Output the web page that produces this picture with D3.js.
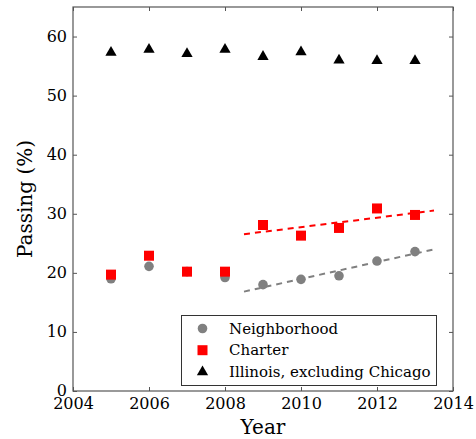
<!DOCTYPE html>
<html>
<head>
<meta charset="utf-8">
<script src="https://cdn.jsdelivr.net/npm/d3@7/dist/d3.min.js"></script>
<style>
  html, body { margin: 0; padding: 0; background: #fff; }
  svg { display: block; font-family: "DejaVu Serif", serif; }
</style>
</head>
<body>
<svg id="chart" width="476" height="439"></svg>
<script>
// Passing rates by year
const years = [2005, 2006, 2007, 2008, 2009, 2010, 2011, 2012, 2013];
const neighborhood = [19.0, 21.1, 20.2, 19.2, 18.0, 18.9, 19.5, 22.0, 23.6];
const charter = [19.7, 22.9, 20.2, 20.2, 28.1, 26.3, 27.6, 30.9, 29.8];
const illinois = [57.3, 57.8, 57.1, 57.8, 56.6, 57.4, 56.0, 55.9, 55.9];

// Trend fits use the years from 2009 on, drawn over this span
const fitStart = 2009;
const fitSpan = [2008.5, 2013.5];

const xTicks = [2004, 2006, 2008, 2010, 2012, 2014];
const yTicks = [0, 10, 20, 30, 40, 50, 60];
const legendLabels = ["Neighborhood", "Charter", "Illinois, excluding Chicago"];

const svg = d3.select("#chart");
const margin = { left: 73, right: 23, top: 7, bottom: 48 };
const W = 476, H = 439;

const x = d3.scaleLinear().domain([2004, 2014]).range([margin.left, W - margin.right]);
const y = d3.scaleLinear().domain([0, 65]).range([H - margin.bottom, margin.top]);

const frame = "#555";

// Axes with inward ticks on every side
function styleAxis(g) {
  g.select(".domain").remove();
  g.selectAll(".tick line").attr("stroke", frame);
  g.selectAll(".tick text").attr("fill", "#000").style("font-family", "DejaVu Serif").style("font-size", "16px");
}
svg.append("g").attr("transform", `translate(0,${y(0)})`)
  .call(d3.axisBottom(x).tickValues(xTicks).tickFormat(d3.format("d")).tickSizeInner(-4).tickPadding(7))
  .call(styleAxis);
svg.append("g").attr("transform", `translate(0,${y(65)})`)
  .call(d3.axisTop(x).tickValues(xTicks).tickFormat("").tickSizeInner(-4))
  .call(styleAxis);
svg.append("g").attr("transform", `translate(${x(2004)},0)`)
  .call(d3.axisLeft(y).tickValues(yTicks).tickSizeInner(-4).tickPadding(6))
  .call(styleAxis)
  .call(g => g.selectAll(".tick text").attr("dy", "0.28em"));
svg.append("g").attr("transform", `translate(${x(2014)},0)`)
  .call(d3.axisRight(y).tickValues(yTicks).tickFormat("").tickSizeInner(-4))
  .call(styleAxis);

svg.append("rect")
  .attr("x", x(2004)).attr("y", y(65))
  .attr("width", x(2014) - x(2004)).attr("height", y(0) - y(65))
  .attr("fill", "none").attr("stroke", frame).attr("stroke-width", 1.2);

// Least-squares trend line
function fit(vals) {
  const pts = years.map((yr, i) => [yr, vals[i]]).filter(p => p[0] >= fitStart);
  const mx = d3.mean(pts, p => p[0]), my = d3.mean(pts, p => p[1]);
  const slope = d3.sum(pts, p => (p[0] - mx) * (p[1] - my)) / d3.sum(pts, p => (p[0] - mx) ** 2);
  return fitSpan.map(t => [t, my + slope * (t - mx)]);
}
const line = d3.line().x(d => x(d[0])).y(d => y(d[1]));
svg.append("path").attr("d", line(fit(charter)))
  .attr("fill", "none").attr("stroke", "#ff0000").attr("stroke-width", 2).attr("stroke-dasharray", "6,5");
svg.append("path").attr("d", line(fit(neighborhood)))
  .attr("fill", "none").attr("stroke", "#808080").attr("stroke-width", 2).attr("stroke-dasharray", "6,5");

const sym = {
  circle: d3.symbol().type(d3.symbolCircle).size(Math.PI * 4.8 * 4.8),
  square: d3.symbol().type(d3.symbolSquare).size(10 * 10),
  triangle: d3.symbol().type(d3.symbolTriangle).size(55)
};

function points(vals, path, color) {
  svg.append("g").selectAll("path").data(vals).join("path")
    .attr("d", path)
    .attr("transform", (d, i) => `translate(${x(years[i])},${y(d)})`)
    .attr("fill", color);
}
points(neighborhood, sym.circle(), "#808080");
points(charter, sym.square(), "#ff0000");
points(illinois, sym.triangle(), "#000000");

// Legend
const lg = svg.append("g");
lg.append("rect").attr("x", 181.5).attr("y", 315.5).attr("width", 255).attr("height", 70)
  .attr("fill", "#fff").attr("stroke", "#333").attr("stroke-width", 1);
const legendItems = [
  { label: legendLabels[0], path: sym.circle(), color: "#808080" },
  { label: legendLabels[1], path: sym.square(), color: "#ff0000" },
  { label: legendLabels[2], path: sym.triangle(), color: "#000000" }
];
legendItems.forEach((it, i) => {
  const cy = 328.5 + i * 21.7;
  lg.append("path").attr("d", it.path).attr("fill", it.color)
    .attr("transform", `translate(202.5,${cy})`);
  lg.append("text").attr("x", 229).attr("y", cy).attr("dy", "0.35em")
    .style("font-size", "15px").attr("fill", "#000").text(it.label);
});

// Axis titles
svg.append("text").attr("x", (x(2004) + x(2014)) / 2).attr("y", 434)
  .attr("text-anchor", "middle").style("font-size", "20px").text("Year");
svg.append("text").attr("transform", `translate(32,${(y(0) + y(65)) / 2}) rotate(-90)`)
  .attr("text-anchor", "middle").style("font-size", "20px").text("Passing (%)");
</script>
</body>
</html>
